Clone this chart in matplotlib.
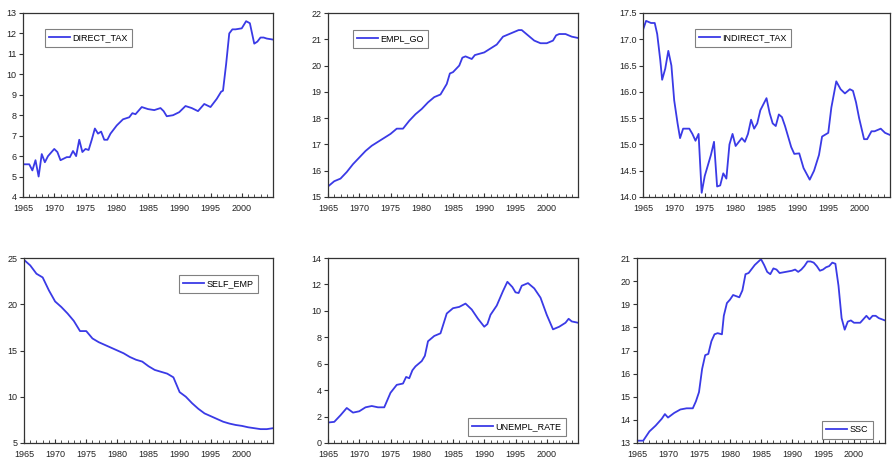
import matplotlib
matplotlib.use("Agg")
import matplotlib.pyplot as plt
from matplotlib.ticker import MultipleLocator, FormatStrFormatter

plt.rcParams["font.family"] = "Liberation Sans"
plt.rcParams["font.size"] = 6.5

# series (year, value)
direct_tax_x = [1965, 1966, 1966.5, 1967, 1967.5, 1968, 1968.5, 1969, 1970, 1970.5, 1971, 1972,
                1972.5, 1973, 1973.5, 1974, 1974.5, 1975, 1975.5, 1976, 1976.5, 1977, 1977.5,
                1978, 1978.5, 1979, 1980, 1981, 1982, 1982.5, 1983, 1984, 1985, 1986, 1987,
                1987.5, 1988, 1989, 1990, 1991, 1992, 1993, 1994, 1995, 1996, 1996.7, 1997,
                1997.5, 1998, 1998.5, 1999, 2000, 2000.7, 2001.3, 2002, 2002.5, 2003, 2003.5,
                2004, 2005]
direct_tax = [5.6, 5.6, 5.3, 5.8, 5.0, 6.1, 5.7, 6.0, 6.35, 6.2, 5.8, 5.95, 5.95, 6.25, 6.0,
              6.8, 6.2, 6.35, 6.3, 6.8, 7.35, 7.1, 7.2, 6.8, 6.8, 7.1, 7.5, 7.8, 7.9, 8.1,
              8.05, 8.4, 8.3, 8.25, 8.35, 8.2, 7.95, 8.0, 8.15, 8.45, 8.35, 8.2, 8.55, 8.4,
              8.8, 9.15, 9.2, 10.5, 12.0, 12.2, 12.2, 12.25, 12.6, 12.5, 11.5, 11.6, 11.8,
              11.8, 11.75, 11.7]

empl_go_x = [1965, 1966, 1967, 1968, 1969, 1970, 1971, 1972, 1973, 1974, 1975, 1976, 1977,
             1978, 1979, 1980, 1981, 1982, 1983, 1984, 1984.5, 1985, 1986, 1986.5, 1987,
             1987.5, 1988, 1988.5, 1990, 1991, 1992, 1993, 1994, 1995, 1995.5, 1996, 1997,
             1998, 1999, 2000, 2001, 2001.5, 2002, 2003, 2004, 2005]
empl_go = [15.4, 15.6, 15.7, 15.95, 16.25, 16.5, 16.75, 16.95, 17.1, 17.25, 17.4, 17.6, 17.6,
           17.9, 18.15, 18.35, 18.6, 18.8, 18.9, 19.3, 19.7, 19.75, 20.0, 20.3, 20.35, 20.3,
           20.25, 20.4, 20.5, 20.65, 20.8, 21.1, 21.2, 21.3, 21.35, 21.35, 21.15, 20.95,
           20.85, 20.85, 20.95, 21.15, 21.2, 21.2, 21.1, 21.05]

indirect_tax_x = [1965, 1965.5, 1966.3, 1966.9, 1967.3, 1967.8, 1968.1, 1968.6, 1969.1, 1969.6,
                  1970.05, 1970.6, 1971, 1971.5, 1972.5, 1973, 1973.5, 1974, 1974.5, 1975,
                  1976, 1976.5, 1977, 1977.5, 1978, 1978.5, 1979, 1979.5, 1980, 1981, 1981.5,
                  1982, 1982.5, 1983, 1983.5, 1984, 1985, 1985.5, 1986, 1986.5, 1987, 1987.5,
                  1988, 1989, 1989.5, 1990.3, 1991, 1992, 1992.7, 1993.5, 1994, 1995, 1995.5,
                  1996.3, 1997, 1997.7, 1998.5, 1999, 1999.5, 2000, 2000.8, 2001.3, 2002,
                  2002.5, 2003.5, 2004.2, 2005]
indirect_tax = [17.18, 17.35, 17.31, 17.31, 17.1, 16.6, 16.23, 16.44, 16.78, 16.5, 15.84, 15.4,
                15.12, 15.3, 15.3, 15.2, 15.07, 15.2, 14.08, 14.4, 14.8, 15.05, 14.2, 14.22,
                14.45, 14.35, 15.0, 15.2, 14.97, 15.12, 15.05, 15.2, 15.47, 15.3, 15.4, 15.65,
                15.88, 15.6, 15.4, 15.35, 15.57, 15.52, 15.35, 14.95, 14.82, 14.83, 14.55,
                14.33, 14.5, 14.8, 15.15, 15.22, 15.7, 16.2, 16.05, 15.97, 16.05, 16.02, 15.8,
                15.5, 15.1, 15.1, 15.25, 15.25, 15.3, 15.22, 15.18]

years = list(range(1965, 2006))
self_emp = [24.8, 24.2, 23.3, 22.9, 21.5, 20.3, 19.7, 19.0, 18.2, 17.1, 17.1, 16.3, 15.9,
            15.6, 15.3, 15.0, 14.7, 14.3, 14.0, 13.8, 13.3, 12.9, 12.7, 12.5, 12.1, 10.5,
            10.0, 9.3, 8.7, 8.2, 7.9, 7.6, 7.3, 7.1, 6.95, 6.85, 6.7, 6.6, 6.5, 6.5, 6.6]

unempl_x = [1965, 1966, 1967, 1968, 1969, 1970, 1971, 1972, 1973, 1974, 1975, 1976, 1977,
            1977.5, 1978, 1978.5, 1979, 1980, 1980.5, 1981, 1982, 1983, 1984, 1985, 1986,
            1987, 1988, 1989, 1990, 1990.5, 1991, 1992, 1993, 1993.7, 1994.5, 1995, 1995.5,
            1996, 1997, 1998, 1999, 2000, 2001, 2002, 2003, 2003.5, 2004, 2005]
unempl_rate = [1.55, 1.6, 2.1, 2.65, 2.3, 2.4, 2.7, 2.8, 2.7, 2.7, 3.8, 4.4, 4.5, 5.0, 4.9,
               5.5, 5.8, 6.2, 6.6, 7.7, 8.1, 8.3, 9.8, 10.2, 10.3, 10.55, 10.1, 9.4, 8.8,
               9.0, 9.7, 10.4, 11.5, 12.2, 11.8, 11.4, 11.35, 11.9, 12.1, 11.7, 11.0, 9.7,
               8.6, 8.8, 9.1, 9.4, 9.2, 9.1]

ssc_x = [1965, 1966, 1967, 1968, 1969, 1969.5, 1970, 1971, 1972, 1973, 1974, 1974.5, 1975,
         1975.5, 1976, 1976.5, 1977, 1977.5, 1978, 1978.7, 1979, 1979.5, 1980, 1980.5, 1981,
         1981.5, 1982, 1982.5, 1983, 1984, 1985, 1985.5, 1986, 1986.5, 1987, 1987.5, 1988,
         1989, 1990, 1990.5, 1991, 1991.5, 1992, 1992.5, 1993, 1993.5, 1994, 1994.5, 1995,
         1995.5, 1996, 1996.5, 1997, 1997.5, 1998, 1998.5, 1999, 1999.5, 2000, 2001, 2001.5,
         2002, 2002.5, 2003, 2003.5, 2004, 2005]
ssc = [13.1, 13.1, 13.5, 13.75, 14.05, 14.25, 14.1, 14.3, 14.45, 14.5, 14.5, 14.8, 15.2, 16.2,
       16.8, 16.85, 17.4, 17.7, 17.75, 17.7, 18.5, 19.05, 19.2, 19.4, 19.35, 19.3, 19.6, 20.3,
       20.35, 20.7, 20.95, 20.7, 20.4, 20.3, 20.55, 20.5, 20.35, 20.4, 20.45, 20.5, 20.4,
       20.5, 20.65, 20.85, 20.85, 20.8, 20.65, 20.45, 20.5, 20.6, 20.65, 20.8, 20.75, 19.8,
       18.4, 17.9, 18.25, 18.3, 18.2, 18.2, 18.35, 18.5, 18.35, 18.5, 18.5, 18.4, 18.3]

W, H = 892, 463
fig = plt.figure(figsize=(W / 100, H / 100), dpi=100)

def px_axes(l, r, t, b):
    return fig.add_axes([l / W, 1 - b / H, (r - l) / W, (b - t) / H])

# (x, y, name, box px: left, right, top, bottom, ylim, ystep, fmt, legend corner px)
panels = [
    (direct_tax_x, direct_tax, "DIRECT_TAX", (23, 273, 13, 197), (4, 13), 1, "%d", (40, 24)),
    (empl_go_x, empl_go, "EMPL_GO", (328, 578, 13, 197), (15, 22), 1, "%d", (348, 25)),
    (indirect_tax_x, indirect_tax, "INDIRECT_TAX", (643, 890, 13, 197), (14, 17.5), 0.5, "%.1f", (690, 24)),
    (years, self_emp, "SELF_EMP", (24, 273, 258, 443), (5, 25), 5, "%d", (174, 270)),
    (unempl_x, unempl_rate, "UNEMPL_RATE", (328, 578, 258, 443), (0, 14), 2, "%d", (463, 413)),
    (ssc_x, ssc, "SSC", (637, 885, 258, 443), (13, 21), 1, "%d", (817, 416)),
]

for x, y, name, box, ylim, ystep, fmt, leg in panels:
    ax = px_axes(*box)
    ax.plot(x, y, color="#3a3ae6", lw=1.3, label=name)
    ax.set_xlim(1965, 2005)
    ax.set_ylim(*ylim)
    ax.xaxis.set_minor_locator(MultipleLocator(1))
    ax.yaxis.set_major_locator(MultipleLocator(ystep))
    ax.yaxis.set_major_formatter(FormatStrFormatter(fmt))
    ax.set_xticks([t for t in range(1965, 2005, 5)])
    ax.tick_params(axis="x", which="major", direction="in", length=3, pad=5,
                   colors="#333333", labelcolor="#222222")
    ax.tick_params(axis="x", which="minor", direction="in", length=2, colors="#333333")
    ax.tick_params(axis="y", direction="out", length=3, pad=1.5,
                   colors="#333333", labelcolor="#222222")
    for s in ax.spines.values():
        s.set_color("#333333")
        s.set_linewidth(0.9)
    lg = ax.legend(loc="upper left", bbox_to_anchor=(leg[0] / W, 1 - leg[1] / H),
                   bbox_transform=fig.transFigure, fancybox=False, framealpha=1,
                   edgecolor="#808080", handlelength=2.3, handletextpad=0.3,
                   borderpad=0.5, fontsize=6.5)
    lg.get_frame().set_linewidth(0.8)

fig.savefig("out.png", dpi=100)
